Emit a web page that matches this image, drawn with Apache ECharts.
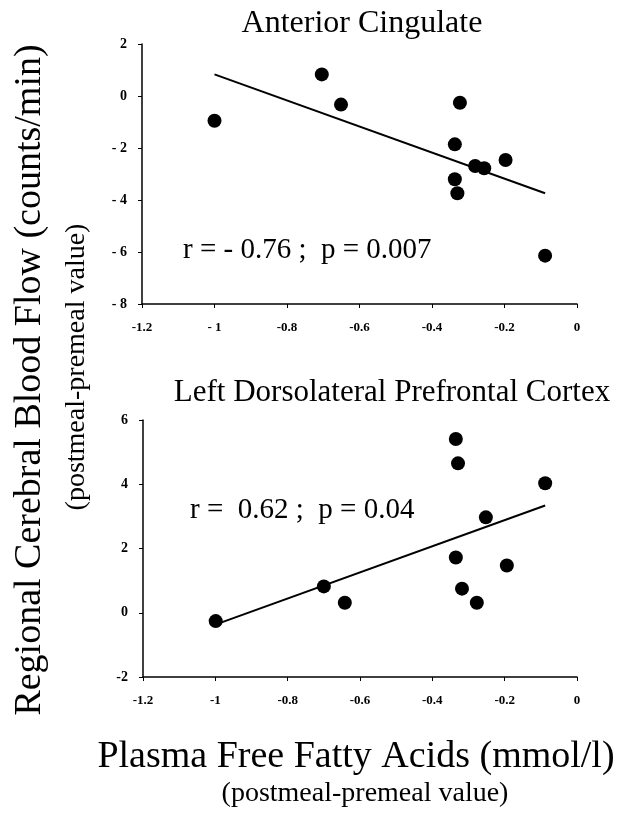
<!DOCTYPE html>
<html>
<head>
<meta charset="utf-8">
<script src="https://cdn.jsdelivr.net/npm/echarts@6/dist/echarts.min.js"></script>
<style>
  html, body { margin: 0; padding: 0; background: #fff; }
  #chart { width: 629px; height: 825px; }
</style>
</head>
<body>
<div id="chart"></div>
<script>
// Anterior Cingulate points [FFA, rCBF]
var cingulatePoints = [
  [-1.0, -0.95], [-0.704, 0.83], [-0.651, -0.33], [-0.323, -0.26],
  [-0.337, -1.86], [-0.281, -2.69], [-0.256, -2.78], [-0.197, -2.46],
  [-0.337, -3.2], [-0.33, -3.74], [-0.088, -6.14]
];
var cingulateFit = [[-1.0, 0.83], [-0.088, -3.74]];

// Left Dorsolateral Prefrontal Cortex points
var dlpfcPoints = [
  [-0.999, -0.26], [-0.70, 0.82], [-0.642, 0.31], [-0.335, 5.41],
  [-0.329, 4.65], [-0.088, 4.03], [-0.252, 2.97], [-0.335, 1.72],
  [-0.194, 1.47], [-0.318, 0.75], [-0.277, 0.31]
];
var dlpfcFit = [[-1.0, -0.37], [-0.088, 3.34]];

var xTicksTop = ["-1.2", "- 1", "-0.8", "-0.6", "-0.4", "-0.2", "0"];
var xTicksBottom = ["-1.2", "-1", "-0.8", "-0.6", "-0.4", "-0.2", "0"];

var serif = "Liberation Serif";
var chart = echarts.init(document.getElementById("chart"));

function xAxisOf(grid, labels) {
  return {
    gridIndex: grid,
    type: "value",
    min: -1.2,
    max: 0,
    interval: 0.2,
    splitLine: { show: false },
    axisLine: { onZero: false, lineStyle: { color: "#000", width: 1.5 } },
    axisTick: { length: 4, lineStyle: { color: "#000" } },
    axisLabel: {
      color: "#000",
      fontFamily: serif,
      fontWeight: "bold",
      fontSize: 13,
      margin: 17,
      formatter: function (v) {
        var i = Math.round((v + 1.2) / 0.2);
        return labels[i];
      }
    }
  };
}

function yAxisOf(grid, min, max, spaced) {
  return {
    gridIndex: grid,
    type: "value",
    min: min,
    max: max,
    interval: 2,
    splitLine: { show: false },
    axisLine: { show: true, onZero: false, lineStyle: { color: "#000", width: 1.5 } },
    axisTick: { show: true, length: 4, lineStyle: { color: "#000" } },
    axisLabel: {
      color: "#000",
      fontFamily: serif,
      fontWeight: "bold",
      fontSize: 14,
      margin: 15,
      formatter: function (v) {
        if (v < 0 && spaced) return "- " + Math.abs(v);
        return String(v);
      }
    }
  };
}

function dots(grid, data) {
  return {
    type: "scatter",
    xAxisIndex: grid,
    yAxisIndex: grid,
    data: data,
    symbolSize: 14,
    itemStyle: { color: "#000", opacity: 1 },
    silent: true
  };
}

function fit(grid, data) {
  return {
    type: "line",
    xAxisIndex: grid,
    yAxisIndex: grid,
    data: data,
    symbol: "none",
    lineStyle: { color: "#000", width: 2 },
    silent: true
  };
}

chart.setOption({
  animation: false,
  backgroundColor: "#fff",
  grid: [
    { left: 142, top: 44, width: 435, height: 260 },
    { left: 143, top: 420, width: 434, height: 257 }
  ],
  xAxis: [xAxisOf(0, xTicksTop), xAxisOf(1, xTicksBottom)],
  yAxis: [yAxisOf(0, -8, 2, true), yAxisOf(1, -2, 6, false)],
  series: [
    fit(0, cingulateFit), dots(0, cingulatePoints),
    fit(1, dlpfcFit), dots(1, dlpfcPoints)
  ],
  graphic: [
    { type: "text", x: 362, y: 24,
      style: { text: "Anterior Cingulate", font: "32px " + serif, fill: "#000",
        align: "center", verticalAlign: "middle" } },
    { type: "text", x: 392, y: 393,
      style: { text: "Left Dorsolateral Prefrontal Cortex", font: "31px " + serif, fill: "#000",
        align: "center", verticalAlign: "middle" } },
    { type: "text", x: 183, y: 250,
      style: { text: "r = - 0.76 ;  p = 0.007", font: "29px " + serif, fill: "#000",
        verticalAlign: "middle" } },
    { type: "text", x: 190, y: 510,
      style: { text: "r =  0.62 ;  p = 0.04", font: "29px " + serif, fill: "#000",
        verticalAlign: "middle" } },
    { type: "text", x: 30, y: 380, rotation: Math.PI / 2,
      style: { text: "Regional Cerebral Blood Flow (counts/min)", font: "38px " + serif,
        fill: "#000", align: "center", verticalAlign: "middle" } },
    { type: "text", x: 77, y: 367, rotation: Math.PI / 2,
      style: { text: "(postmeal-premeal value)", font: "28px " + serif,
        fill: "#000", align: "center", verticalAlign: "middle" } },
    { type: "text", x: 356, y: 757,
      style: { text: "Plasma Free Fatty Acids (mmol/l)", font: "38px " + serif,
        fill: "#000", align: "center", verticalAlign: "middle" } },
    { type: "text", x: 365, y: 794,
      style: { text: "(postmeal-premeal value)", font: "28px " + serif,
        fill: "#000", align: "center", verticalAlign: "middle" } }
  ]
});
</script>
</body>
</html>
